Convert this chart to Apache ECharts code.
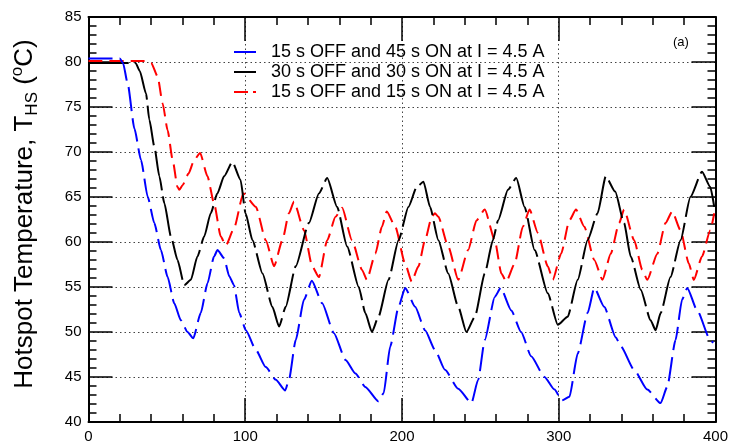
<!DOCTYPE html>
<html>
<head>
<meta charset="utf-8">
<script src="https://cdn.jsdelivr.net/npm/echarts@6/dist/echarts.min.js"></script>
<style>html,body{margin:0;padding:0;background:#fff}#c{width:731px;height:444px}</style>
</head>
<body>
<div id="c"></div>
<script>
// ---- Data ----
const seriesNames = ['15 s OFF and 45 s ON at I = 4.5 A', '30 s OFF and 30 s ON at I = 4.5 A', '15 s OFF and 15 s ON at I = 4.5 A'];
const xTicks = [0, 100, 200, 300, 400];
const yTicks = [40, 45, 50, 55, 60, 65, 70, 75, 80, 85];

const blueT = [0, 20, 22, 25, 29.3, 33.5, 37.8, 42, 46.2, 50.5, 54.7, 58.9, 63.2, 66.8, 71.6, 75.9, 80.1, 82.3, 86.5, 89.8, 92.8, 96.2, 100.4, 106.8, 113.1, 119.5, 125.5, 127.9, 132.2, 137.5, 142.5, 149.1, 156.5, 164, 170.3, 176.6, 185, 188.3, 192.5, 197.8, 202, 208.4, 214.7, 221.1, 227.4, 235.9, 244.3, 248.6, 252.8, 259.2, 263, 269.7, 276, 282.4, 290.9, 297.3, 302, 306.8, 312.1, 318.4, 322.7, 329, 336.4, 339.6, 348.1, 356.5, 365, 369.2, 374.5, 378.7, 382, 388.3, 396.7, 398.5];
const blueY = [80.4, 80.4, 79.9, 77.6, 72.6, 69.1, 65, 62.1, 59.1, 56.1, 53.2, 51.3, 50.0, 49.3, 52.1, 55.4, 58.4, 59.1, 58.2, 56.2, 55.2, 52.1, 50.2, 48, 46.1, 44.7, 43.5, 44.7, 49.1, 53.6, 55.7, 53.2, 49.9, 46.9, 45.4, 43.9, 42.3, 43.2, 48.4, 52.8, 54.9, 52.8, 50.2, 48, 45.8, 43.7, 42.1, 44.7, 49.1, 53.9, 54.9, 52.4, 50, 47.3, 45, 43.6, 42.4, 42.8, 47.6, 52.1, 54.9, 52.8, 49.4, 48.4, 45.8, 43.6, 42.1, 43.9, 49.1, 53.6, 54.9, 52.4, 49.1, 48.8];

const blackT = [0, 30, 32.7, 36.7, 38.8, 42, 45.2, 48.4, 52.6, 56.8, 61.1, 65.3, 69.5, 73.8, 78, 82.2, 86.5, 91.8, 97, 100.2, 104.6, 111, 117.3, 121.6, 125.8, 132.2, 140.6, 147, 152.3, 158.6, 165, 172.4, 176.6, 180.8, 185, 191.4, 197.8, 204.1, 209.4, 213.7, 217.9, 223.2, 229.5, 235.9, 241.1, 246.5, 252.8, 258, 261.3, 267.6, 272.9, 278.2, 284.6, 293, 299.4, 305.7, 312.1, 318.4, 324.8, 330, 336, 341.7, 345.9, 352.3, 358.6, 361.8, 365, 371.3, 377.7, 384, 391.4, 396.7, 399.2];
const blackY = [79.9, 79.9, 79.0, 76.5, 73.6, 70.6, 67.3, 64.3, 60.6, 58, 55.2, 55.8, 58.4, 60.6, 63.2, 65.4, 67.3, 68.9, 66.9, 63.2, 60.2, 56.5, 52.8, 50.6, 52.8, 57.3, 62.1, 65.4, 67.1, 63.9, 59.5, 55, 52.1, 50, 51.7, 55.8, 60.2, 63.9, 66.1, 66.7, 63.9, 60.2, 56.5, 52.8, 50, 51.7, 56.5, 60.2, 62.4, 65.8, 67.1, 63.9, 59.1, 54.3, 50.8, 51.7, 55.8, 60.2, 63.2, 67.3, 65.6, 62.1, 58.4, 54.7, 51.3, 50.2, 52.1, 56.1, 60.2, 65, 67.8, 66.1, 63.9];

const redT = [0, 38, 40, 44.1, 47.3, 50.5, 53.7, 56.8, 58, 60, 63.8, 67.4, 71.2, 75.9, 80.1, 84.4, 87.6, 92.8, 98.8, 106.8, 113.1, 118.4, 123.7, 127.9, 131.1, 137.5, 142.7, 147, 152.3, 157.6, 161.8, 168.1, 174.5, 177.6, 183, 187.2, 190.3, 195.7, 202, 206.2, 210.5, 214.7, 219, 221, 223.2, 229.5, 235.9, 242.2, 247.5, 252.8, 259.2, 263.4, 266.5, 271.9, 277.1, 281.4, 286.7, 293, 296.2, 301.5, 306.8, 311, 316.3, 322.7, 327.9, 333.2, 338.5, 341.7, 348.1, 353.3, 356.5, 362.9, 368.1, 372.4, 377.7, 383, 386.2, 391.4, 396.7, 399.2];
const redY = [80.1, 80.1, 79.9, 78.4, 75.4, 72.4, 69.1, 66.1, 65.8, 66.3, 67.6, 69.1, 69.9, 67.3, 64.3, 60.6, 59.6, 61.5, 65.4, 63.9, 60.2, 57.3, 60.2, 63.2, 64.5, 61.3, 57.3, 56.1, 60.2, 62.8, 63.8, 60.2, 56.9, 55.8, 58.7, 61.7, 63.4, 61.7, 57.6, 55.6, 57.3, 60.2, 62.8, 63.2, 62.8, 59.5, 55.8, 59.1, 62.4, 63.6, 60.2, 56.5, 55.6, 57.6, 61.7, 63.6, 61, 57.3, 55.8, 58.7, 62.4, 63.6, 61.7, 58, 55.8, 58.7, 62.1, 63.6, 60.2, 56.9, 55.8, 58.7, 62.1, 63.4, 61.3, 57.6, 55.8, 58.4, 61.3, 63.2];

const pair = (t, y) => t.map((v, i) => [v, y[i]]);

const FONT = 'Liberation Sans, Arial, sans-serif';
const chart = echarts.init(document.getElementById('c'), null, {renderer: 'canvas'});

const xBase = {
  type: 'value', min: xTicks[0], max: xTicks[xTicks.length - 1], interval: 100,
  axisLine: {show: true, onZero: false, lineStyle: {color: '#000', width: 2}},
  axisTick: {show: true, inside: true, length: 24, lineStyle: {color: '#000', width: 1.5}},
  minorTick: {show: true, splitNumber: 5, length: 8, lineStyle: {color: '#000', width: 1.5}}
};
const yBase = {
  type: 'value', min: yTicks[0], max: yTicks[yTicks.length - 1], interval: 5,
  axisLine: {show: true, onZero: false, lineStyle: {color: '#000', width: 2}},
  axisTick: {show: true, inside: true, length: 24, lineStyle: {color: '#000', width: 1.5}},
  minorTick: {show: true, splitNumber: 5, length: 8, lineStyle: {color: '#000', width: 1.5}}
};

const gridLine = {show: true, lineStyle: {color: '#444', width: 1, type: [1.5, 3]}};

const colors = ['#0000ff', '#000000', '#ff0000'];
const dashes = [[24, 7], [40, 6], [14, 7]];
const datas = [pair(blueT, blueY), pair(blackT, blackY), pair(redT, redY)];

chart.setOption({
  animation: false,
  backgroundColor: '#fff',
  grid: {left: 88.5, right: 12.5, top: 17, bottom: 22, containLabel: false},
  xAxis: [
    Object.assign({}, xBase, {position: 'bottom',
      axisLabel: {show: true, color: '#000', fontSize: 15, fontFamily: FONT, margin: 7},
      splitLine: gridLine}),
    Object.assign({}, xBase, {position: 'top', axisLabel: {show: false}, splitLine: {show: false}})
  ],
  yAxis: [
    Object.assign({}, yBase, {position: 'left',
      axisLabel: {show: true, color: '#000', fontSize: 15, fontFamily: FONT, margin: 7},
      splitLine: gridLine}),
    Object.assign({}, yBase, {position: 'right', axisLabel: {show: false}, splitLine: {show: false}})
  ],
  legend: {
    orient: 'vertical', left: 228, top: 38, selectedMode: false,
    itemWidth: 22, itemHeight: 12, itemGap: 2,
    textStyle: {fontSize: 18, fontFamily: FONT, color: '#000', padding: [0, 0, 0, 10]},
    data: seriesNames.map((n, i) => ({
      name: n,
      itemStyle: {opacity: 0, borderWidth: 0},
      lineStyle: {type: i === 2 ? [14, 5, 3, 5] : 'solid', width: 2, color: colors[i], opacity: 1}
    }))
  },
  series: seriesNames.map((n, i) => ({
    name: n, type: 'line', xAxisIndex: 0, yAxisIndex: 0,
    data: datas[i], showSymbol: false, symbol: 'none', smooth: 0.2, smoothMonotone: 'x',
    lineStyle: {color: colors[i], width: 2, type: dashes[i]},
    itemStyle: {color: colors[i]},
    z: 3 - i
  })),
  graphic: [
    {
      type: 'text', x: 25, y: 214, rotation: Math.PI / 2,
      style: {
        text: '{a|Hotspot Temperature, T}{b|HS}{a| (}{c|o}{a|C)}',
        align: 'center', verticalAlign: 'middle', fill: '#000',
        rich: {
          a: {fontSize: 26, fontFamily: FONT, lineHeight: 32, fill: '#000'},
          b: {fontSize: 17, fontFamily: FONT, verticalAlign: 'bottom', fill: '#000'},
          c: {fontSize: 17, fontFamily: FONT, verticalAlign: 'top', fill: '#000'}
        }
      }
    },
    {
      type: 'text', x: 673, y: 42,
      style: {text: '(a)', fontSize: 13, fontFamily: FONT, fill: '#000', align: 'left', verticalAlign: 'middle'}
    }
  ]
});
</script>
</body>
</html>
